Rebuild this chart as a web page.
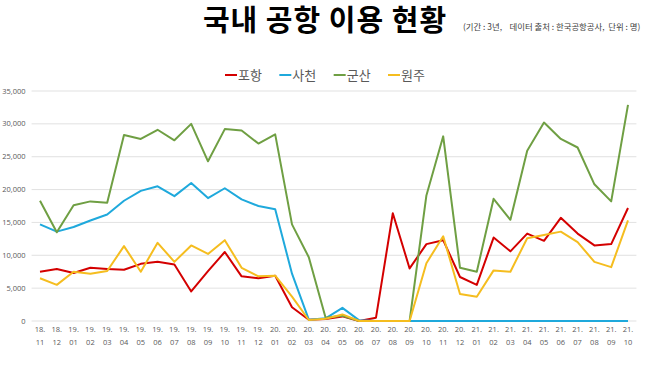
<!DOCTYPE html>
<html>
<head>
<meta charset="utf-8">
<script src="https://cdn.jsdelivr.net/npm/d3@7"></script>
<style>
  body { margin: 0; background: #fff; }
  svg { display: block; }
  .title { font-family: "Noto Sans CJK KR", sans-serif; font-weight: 700; font-size: 29px; fill: #000; }
  .subtitle { font-family: "Noto Sans CJK KR", sans-serif; font-size: 8.4px; fill: #404040; }
  .legend text { font-family: "Noto Sans CJK KR", sans-serif; font-size: 13px; fill: #595959; }
  .y-label, .x-label { font-family: "Open Sans", "Noto Sans", sans-serif; font-size: 7.5px; fill: #595959; }
  .line-path { fill: none; stroke-width: 2; stroke-linejoin: round; }
</style>
</head>
<body>
<svg width="650" height="365"></svg>
<script>
// 월 (x축 라벨)
const months = ['18.11','18.12','19.01','19.02','19.03','19.04','19.05','19.06','19.07','19.08','19.09','19.10',
  '19.11','19.12','20.01','20.02','20.03','20.04','20.05','20.06','20.07','20.08','20.09','20.10',
  '20.11','20.12','21.01','21.02','21.03','21.04','21.05','21.06','21.07','21.08','21.09','21.10'];

// 공항별 이용객 (명)
const pohang  = [7500,7900,7300,8100,7900,7800,8700,9000,8600,4500,7600,10500,
  6800,6500,6900,2100,200,300,700,0,500,16400,8000,11700,
  12300,6700,5500,12700,10600,13300,12200,15700,13300,11500,11700,17200];
const sacheon = [14700,13600,14300,15300,16200,18300,19800,20500,19000,21000,18700,20200,
  18500,17500,17000,7200,200,400,2000,100,0,0,0,0,
  0,0,0,0,0,0,0,0,0,0,0,0];
const gunsan  = [18300,13500,17600,18200,18000,28300,27700,29100,27500,30000,24300,29200,
  29000,27000,28400,14700,9700,500,800,0,0,0,0,19100,
  28100,8100,7500,18600,15400,25900,30200,27700,26400,20800,18200,32900];
const wonju   = [6500,5500,7500,7200,7600,11400,7500,11900,9000,11500,10200,12300,
  8100,6800,6900,3700,150,350,1000,0,0,0,0,8800,
  12900,4100,3700,7700,7500,12600,13100,13600,12000,9000,8200,15300];

const seriesNames = ['포항', '사천', '군산', '원주'];
const yTicks = [0, 5000, 10000, 15000, 20000, 25000, 30000, 35000];

const {
  select,
  scaleLinear,
  scaleBand,
  scalePoint,
  scaleOrdinal,
  line,
  format
} = d3;

const svg = select('svg');
const width = +svg.attr('width');
const height = +svg.attr('height');

const series = seriesNames.map((name, i) => ({
  name,
  values: [pohang, sacheon, gunsan, wonju][i].map((v, j) => ({ month: months[j], value: v }))
}));

const color = scaleOrdinal()
  .domain(seriesNames)
  .range(['#d40000', '#1fa9dc', '#6f9f43', '#f5bd1f']);

const margin = { top: 91, right: 13.6, bottom: 44, left: 31.6 };
const innerWidth = width - margin.left - margin.right;
const innerHeight = height - margin.top - margin.bottom;

const xScale = scaleBand()
  .domain(months)
  .range([0, innerWidth]);
const xCenter = m => xScale(m) + xScale.bandwidth() / 2;

const yScale = scaleLinear()
  .domain([0, 35000])
  .range([innerHeight, 0]);

const g = svg.append('g')
  .attr('transform', `translate(${margin.left},${margin.top})`);

// 가로 격자 + y 라벨
g.selectAll('line.grid')
  .data(yTicks)
  .enter().append('line')
  .attr('class', 'grid')
  .attr('x1', 0).attr('x2', innerWidth)
  .attr('y1', d => yScale(d)).attr('y2', d => yScale(d))
  .attr('stroke', '#d9d9d9')
  .attr('stroke-width', 0.8);

const fmt = format(',');
g.selectAll('text.y-label')
  .data(yTicks)
  .enter().append('text')
  .attr('class', 'y-label')
  .attr('x', -6)
  .attr('y', d => yScale(d))
  .attr('dy', '0.35em')
  .attr('text-anchor', 'end')
  .text(d => fmt(d));

// x축 라벨 (두 줄: "18." / "11")
const xLabels = g.append('g')
  .attr('transform', `translate(0,${innerHeight})`);
xLabels.selectAll('text.yr')
  .data(months)
  .enter().append('text')
  .attr('class', 'x-label yr')
  .attr('x', xCenter)
  .attr('y', 11)
  .attr('text-anchor', 'middle')
  .text(d => d.split('.')[0] + '.');
xLabels.selectAll('text.mo')
  .data(months)
  .enter().append('text')
  .attr('class', 'x-label mo')
  .attr('x', xCenter)
  .attr('y', 24)
  .attr('text-anchor', 'middle')
  .text(d => d.split('.')[1]);

// 선
const lineGenerator = line()
  .x(d => xCenter(d.month))
  .y(d => yScale(d.value));

g.selectAll('path.line-path')
  .data(series)
  .enter().append('path')
  .attr('class', 'line-path')
  .attr('stroke', d => color(d.name))
  .attr('d', d => lineGenerator(d.values));

// 제목
svg.append('text')
  .attr('class', 'title')
  .attr('x', 325)
  .attr('y', 31)
  .attr('text-anchor', 'middle')
  .attr('letter-spacing', '1px')
  .text('국내 공항 이용 현황');

svg.append('text')
  .attr('class', 'subtitle')
  .attr('x', 463)
  .attr('y', 30)
  .attr('xml:space', 'preserve')
  .text('(기간 : 3년,    데이터 출처 : 한국공항공사,  단위 : 명)');

// 범례
const legendX = scalePoint().domain(seriesNames).range([225, 388]);
const legend = svg.append('g').attr('class', 'legend');
const item = legend.selectAll('g')
  .data(seriesNames)
  .enter().append('g')
  .attr('transform', d => `translate(${legendX(d)},75)`);
item.append('line')
  .attr('x1', 0).attr('x2', 12)
  .attr('stroke', d => color(d))
  .attr('stroke-width', 2);
item.append('text')
  .attr('x', 13)
  .attr('dy', '0.38em')
  .text(d => d);
</script>
</body>
</html>
